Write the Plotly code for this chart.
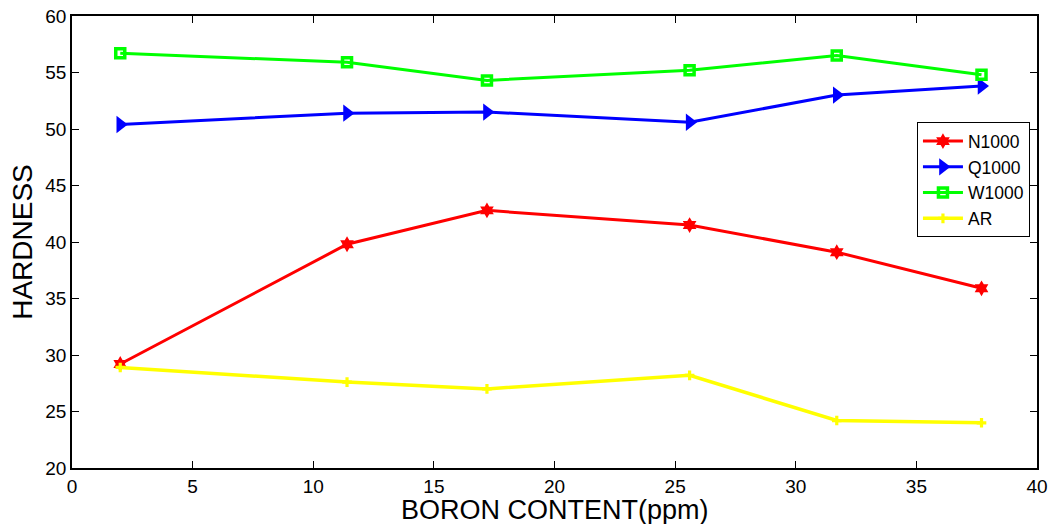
import plotly.graph_objects as go

boron = [2.0, 11.4, 17.2, 25.6, 31.7, 37.7]
n1000 = [29.2, 39.8, 42.8, 41.5, 39.1, 35.9]
q1000 = [50.4, 51.4, 51.5, 50.6, 53.0, 53.8]
w1000 = [56.7, 55.9, 54.3, 55.2, 56.5, 54.8]
ar = [28.9, 27.6, 27.0, 28.2, 24.2, 24.0]

x_ticks = [0, 5, 10, 15, 20, 25, 30, 35, 40]
y_ticks = [20, 25, 30, 35, 40, 45, 50, 55, 60]

FONT = "Liberation Sans, Arial, sans-serif"

fig = go.Figure()
fig.add_trace(go.Scatter(x=boron, y=n1000, name="N1000", mode="lines+markers",
                         line=dict(color="#FF0000", width=3),
                         marker=dict(symbol="hexagram", size=12, color="#FF0000")))
fig.add_trace(go.Scatter(x=boron, y=q1000, name="Q1000", mode="lines+markers",
                         line=dict(color="#0000FF", width=3),
                         marker=dict(symbol="triangle-right", size=15, color="#0000FF")))
fig.add_trace(go.Scatter(x=boron, y=w1000, name="W1000", mode="lines+markers",
                         line=dict(color="#00FF00", width=3),
                         marker=dict(symbol="square-open", size=9, color="#00FF00",
                                     line=dict(width=3.5, color="#00FF00"))))
fig.add_trace(go.Scatter(x=boron, y=ar, name="AR", mode="lines+markers",
                         line=dict(color="#FFFF00", width=3.5),
                         marker=dict(symbol="cross", size=8, color="#FFFF00")))

axis_common = dict(showgrid=False, zeroline=False, showline=True, linecolor="black",
                   linewidth=1.5, mirror="ticks", ticks="inside", ticklen=7,
                   tickcolor="black", automargin=False,
                   tickfont=dict(family=FONT, size=19, color="black"))

fig.update_xaxes(range=[0, 40], tickvals=x_ticks, ticktext=[str(v) for v in x_ticks],
                 **axis_common)
fig.update_yaxes(range=[20, 60], tickvals=y_ticks, ticktext=[str(v) for v in y_ticks],
                 title=dict(text="HARDNESS", font=dict(family=FONT, size=28, color="black"),
                            standoff=5),
                 **axis_common)

fig.add_annotation(text="BORON CONTENT(ppm)", xref="paper", yref="paper",
                   x=0.5, y=-0.128, xanchor="center", yanchor="bottom",
                   showarrow=False, borderpad=0,
                   font=dict(family=FONT, size=27, color="black"))

fig.update_layout(
    width=1056, height=524,
    margin=dict(l=72, r=19, t=16, b=56, autoexpand=False),
    paper_bgcolor="white", plot_bgcolor="white",
    font=dict(family=FONT, color="black"),
    legend=dict(x=0.9927, y=0.765, xanchor="right", yanchor="top",
                bgcolor="white", bordercolor="black", borderwidth=1,
                font=dict(family=FONT, size=17.5, color="black"),
                itemwidth=40, tracegroupgap=0),
    showlegend=True,
)

fig.write_html("out.html")
